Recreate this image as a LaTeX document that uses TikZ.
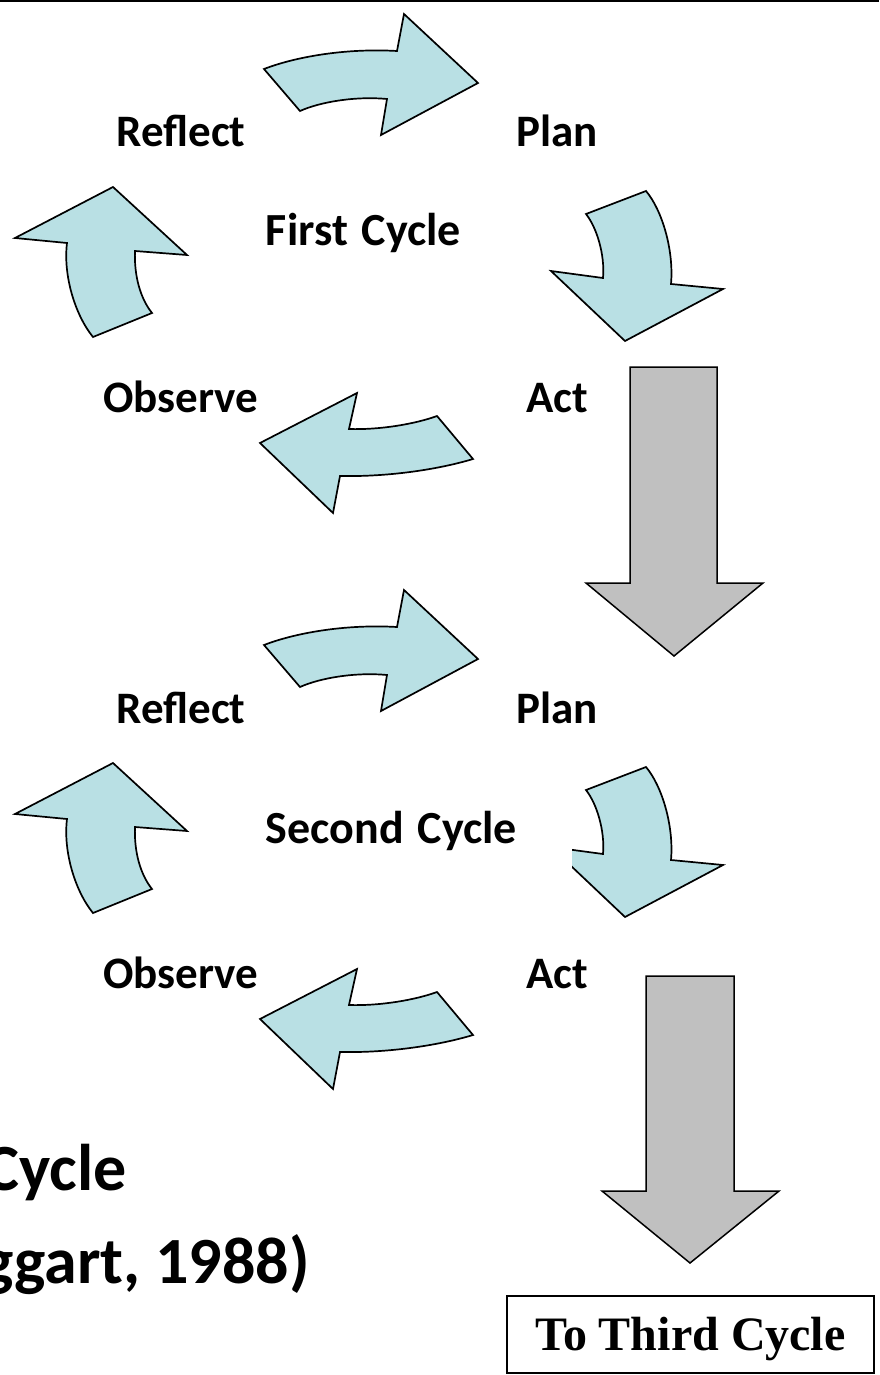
\documentclass[tikz,border=0pt]{standalone}
\usepackage{fontspec}
\setmainfont{Carlito}
\newfontfamily\boxfont{Liberation Serif}
\definecolor{cyclefill}{RGB}{185,224,228}
\definecolor{passfill}{RGB}{192,192,192}

% the four curved arrows of one plan-act-observe-reflect cycle
\newcommand{\cyclearrows}{%
  % reflect -> plan
  \draw[cyclearrow] (264,69) .. controls (295,57) and (345,48) .. (397,51)
    -- (404,14) -- (478,83) -- (381,135) -- (387,99)
    .. controls (355,96) and (320,102) .. (300,111) -- cycle;
  % plan -> act
  \draw[cyclearrow] (586,214) -- (646,191)
    .. controls (662,210) and (674,250) .. (671,284)
    -- (723,289) -- (625,341) -- (551,271) -- (603,278)
    .. controls (605,255) and (597,228) .. (586,214) -- cycle;
  % act -> observe
  \draw[cyclearrow] (437,416) .. controls (415,424) and (380,430) .. (349,429)
    -- (357,393) -- (260,443) -- (333,513) -- (340,476)
    .. controls (390,477) and (440,469) .. (473,459) -- cycle;
  % observe -> reflect
  \draw[cyclearrow] (93,337) -- (152,313)
    .. controls (140,298) and (134,275) .. (135,251)
    -- (187,255) -- (113,187) -- (15,238) -- (67,243)
    .. controls (63,275) and (75,315) .. (93,337) -- cycle;
}

\begin{document}
\begin{tikzpicture}[x=1pt,y=-1pt,
  cyclearrow/.style={fill=cyclefill,draw=black,line width=1.7pt,line join=miter},
  passarrow/.style={fill=passfill,draw=black,line width=1.5pt,line join=miter},
  stage/.style={inner sep=0pt,anchor=base,font=\fontsize{45}{50}\selectfont\bfseries},
  cyclename/.style={inner sep=0pt,anchor=base,font=\fontsize{46}{52}\selectfont\bfseries},
  title/.style={inner sep=0pt,anchor=base east,font=\fontsize{66}{72}\selectfont\bfseries},
  exitbox/.style={draw=black,line width=2pt,inner sep=0pt,minimum width=367pt,
    minimum height=77pt,text height=31pt,text depth=0pt,
    font=\boxfont\fontsize{48}{52}\selectfont\bfseries}]
\useasboundingbox (0,0) rectangle (879,1375);

% rule along the top edge
\draw[line width=2pt] (0,1) -- (879,1);

% first cycle
\cyclearrows
\node[stage] (reflect1) at (181,147) {Reflect};
\node[stage] (plan1) at (557,147) {Plan};
\node[cyclename] (cycle1) at (363.5,245.5) {First\hspace{0.3em}Cycle};
\node[stage] (observe1) at (181,412.5) {Observe};
\node[stage] (act1) at (557,412.5) {Act};

% passage to the second cycle
\draw[passarrow] (630,367) -- (717,367) -- (717,583) -- (763,583)
  -- (674,656) -- (586,583) -- (630,583) -- cycle;

% second cycle
\begin{scope}[yshift=-576pt]
  \cyclearrows
\end{scope}
\fill[white] (250,792) rectangle (572,875);
\node[stage] (reflect2) at (181,723) {Reflect};
\node[stage] (plan2) at (557,723) {Plan};
\node[cyclename] (cycle2) at (391.5,843) {Second\hspace{0.3em}Cycle};
\node[stage] (observe2) at (181,988.5) {Observe};
\node[stage] (act2) at (557,988.5) {Act};

% passage to the third cycle
\draw[passarrow] (646,976) -- (734,976) -- (734,1191) -- (779,1191)
  -- (690,1263) -- (602,1191) -- (646,1191) -- cycle;
\node[exitbox] (third) at (690.5,1334.5) {To Third Cycle};

% caption
\node[title] (caption1) at (127,1190) {Cycle};
\node[title] (caption2) at (310,1283) {ggart, 1988)};
\end{tikzpicture}
\end{document}
